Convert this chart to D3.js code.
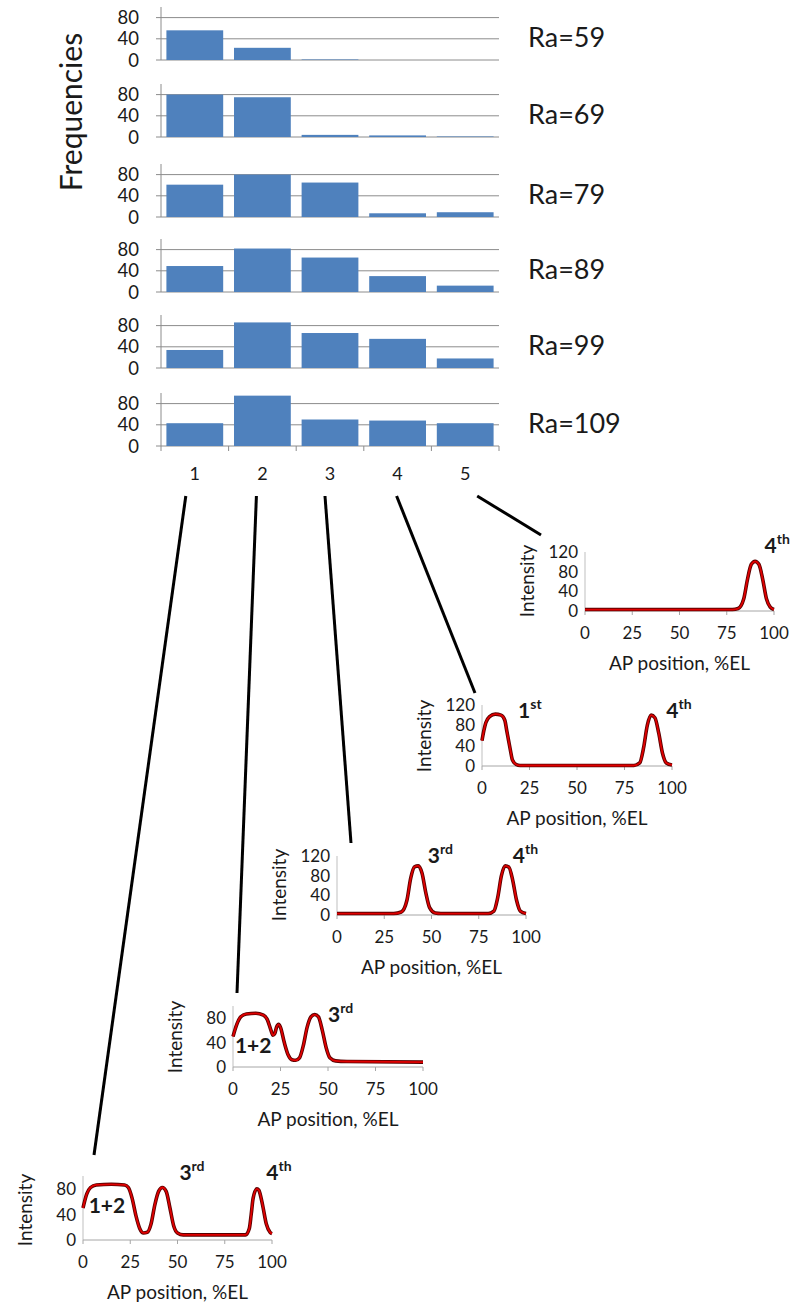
<!DOCTYPE html>
<html>
<head>
<meta charset="utf-8">
<script src="https://cdn.jsdelivr.net/npm/d3@7"></script>
<style>
  body { margin: 0; background: #fff; }
  text { font-family: Lato, "Open Sans", sans-serif; fill: #1a1a1a; }
</style>
</head>
<body>
<div id="chart"></div>
<script>
// histogram data (one row per Ra value)
const categories = [1, 2, 3, 4, 5];
const raLabels = ["Ra=59", "Ra=69", "Ra=79", "Ra=89", "Ra=99", "Ra=109"];
const freqs = [
    [56, 23, 1, 0, 0],
    [80, 75, 4, 3, 1],
    [61, 80, 65, 7, 9],
    [49, 82, 65, 30, 12],
    [34, 86, 66, 55, 18],
    [43, 95, 50, 48, 43]
];
const freqTicks = [0, 40, 80];

// intensity profiles along AP axis, one per category
const apTicks = [0, 25, 50, 75, 100];
const profile1 = [[0,50],[2,72],[4,82],[7,86],[15,87],[22,86],[24,82],[26,65],[28,38],[30,18],[32,11],[34,12],[36,25],[38,55],[40,76],[42,82],[44,76],[46,50],[48,22],[50,11],[53,8],[60,8],[86,8],[88,18],[89,40],[90,65],[92,80],[93,78],[95,55],[97,25],[99,12],[100,10]];
const profile2 = [[0,50],[2,70],[4,82],[7,87],[12,88],[16,85],[18,78],[20,60],[21,52],[22,55],[23,66],[24,70],[25,65],[27,40],[29,20],[31,12],[33,11],[35,15],[37,35],[39,65],[41,82],[43,86],[45,82],[47,60],[49,32],[51,15],[54,10],[60,9],[100,8]];
const profile3 = [[0,3],[30,3],[34,6],[37,30],[39,75],[41,98],[43,100],[45,85],[47,45],[49,15],[52,4],[55,3],[80,3],[83,8],[85,35],[87,80],[89,100],[91,97],[93,70],[95,30],[97,8],[100,3]];
const profile4 = [[0,50],[1,70],[2,85],[4,97],[7,102],[10,100],[12,90],[13,70],[14,50],[15,30],[16,12],[18,3],[20,1],[80,1],[83,6],[85,35],[87,80],[89,100],[91,95],[93,65],[95,25],[97,6],[100,2]];
const profile5 = [[0,3],[78,3],[81,5],[84,25],[86,65],[88,95],[90,101],[92,95],[94,65],[96,25],[98,8],[100,3]];

// peak labels: [main, superscript, x, y] in data units
const labels1 = [["1+2", "", 3, 42], ["3", "rd", 51, 94], ["4", "th", 97, 94]];
const labels2 = [["1+2", "", 1, 23], ["3", "rd", 50, 74]];
const labels3 = [["3", "rd", 48, 106], ["4", "th", 93, 106]];
const labels4 = [["1", "st", 19, 94], ["4", "th", 97, 94]];
const labels5 = [["4", "th", 95, 118]];

const W = 790, H = 1302;
const svg = d3.select("#chart").append("svg")
    .attr("width", W).attr("height", H);
svg.append("rect").attr("width", W).attr("height", H).attr("fill", "#fff");

const grid = "#8c8c8c";

// ---------- histograms ----------
const x = d3.scaleBand().domain(categories).range([161, 499])
    .paddingInner(0.16).paddingOuter(0.08);
const panelBase = [60, 137, 217, 292, 368, 446];
const panelH = 53;

freqs.forEach((row, i) => {
    const g = svg.append("g").attr("transform", `translate(0,${panelBase[i] - panelH})`);
    const y = d3.scaleLinear().domain([0, 100]).range([panelH, 0]);

    g.selectAll(".grid").data(freqTicks).enter().append("line")
        .attr("x1", 156).attr("x2", 499)
        .attr("y1", d => y(d)).attr("y2", d => y(d))
        .attr("stroke", grid).attr("stroke-width", 1);
    g.append("line").attr("x1", 161).attr("x2", 161)
        .attr("y1", y(0)).attr("y2", y(100))
        .attr("stroke", grid);

    g.selectAll(".bar").data(row).enter().append("rect")
        .attr("x", (d, j) => x(categories[j]))
        .attr("width", x.bandwidth())
        .attr("y", d => y(d))
        .attr("height", d => y(0) - y(d))
        .attr("fill", "#4f81bd");

    g.selectAll(".yl").data(freqTicks).enter().append("text")
        .attr("x", 139).attr("y", d => y(d)).attr("dy", "0.36em")
        .attr("text-anchor", "end").style("font-size", "18.5px")
        .text(d => d);

    g.append("text").attr("x", 528).attr("y", panelH - 23).attr("dy", "0.36em")
        .style("font-size", "27px").text(raLabels[i]);
});

// category axis under the last panel
const last = panelBase[panelBase.length - 1];
const step = (499 - 161) / categories.length;
svg.selectAll(".xt").data(d3.range(categories.length + 1)).enter().append("line")
    .attr("x1", k => 161 + k * step).attr("x2", k => 161 + k * step)
    .attr("y1", last).attr("y2", last + 5)
    .attr("stroke", grid);
svg.selectAll(".xl").data(categories).enter().append("text")
    .attr("x", d => x(d) + x.bandwidth() / 2).attr("y", 474).attr("dy", "0.36em")
    .attr("text-anchor", "middle").style("font-size", "18px")
    .text(d => d);

svg.append("text")
    .attr("transform", "translate(71,112) rotate(-90)")
    .attr("text-anchor", "middle").attr("dy", "0.36em")
    .style("font-size", "30px").text("Frequencies");

// ---------- small profile charts ----------
const profiles = [
    { cat: 1, data: profile1, labels: labels1, left: 83, bottom: 1240, w: 189, h: 64, max: 100, ticks: [0, 40, 80], from: -9, to: [94, 1155] },
    { cat: 2, data: profile2, labels: labels2, left: 233, bottom: 1067, w: 190, h: 61, max: 100, ticks: [0, 40, 80], from: -6, to: [237, 993] },
    { cat: 3, data: profile3, labels: labels3, left: 337, bottom: 915, w: 189, h: 59, max: 120, ticks: [0, 40, 80, 120], from: -5, to: [351, 843] },
    { cat: 4, data: profile4, labels: labels4, left: 482, bottom: 766, w: 190, h: 61, max: 120, ticks: [0, 40, 80, 120], from: -1, to: [475, 693] },
    { cat: 5, data: profile5, labels: labels5, left: 585, bottom: 611, w: 189, h: 59, max: 120, ticks: [0, 40, 80, 120], from: 12, to: [541, 535] }
];

profiles.forEach(p => {
    // connector from category label
    svg.append("line")
        .attr("x1", x(p.cat) + x.bandwidth() / 2 + p.from).attr("y1", 496)
        .attr("x2", p.to[0]).attr("y2", p.to[1])
        .attr("stroke", "#000").attr("stroke-width", 3);

    const px = d3.scaleLinear().domain([0, 100]).range([p.left, p.left + p.w]);
    const py = d3.scaleLinear().domain([0, p.max]).range([p.bottom, p.bottom - p.h]);
    const g = svg.append("g");

    g.append("line").attr("x1", px(0)).attr("x2", px(0))
        .attr("y1", py(0)).attr("y2", py(p.max)).attr("stroke", "#bfbfbf");
    g.append("line").attr("x1", px(0)).attr("x2", px(100))
        .attr("y1", py(0)).attr("y2", py(0)).attr("stroke", "#a6a6a6");
    g.selectAll(".t").data(apTicks).enter().append("line")
        .attr("x1", d => px(d)).attr("x2", d => px(d))
        .attr("y1", py(0)).attr("y2", py(0) + 4).attr("stroke", "#a6a6a6");

    g.selectAll(".yl").data(p.ticks).enter().append("text")
        .attr("x", px(0) - 7).attr("y", d => py(d)).attr("dy", "0.36em")
        .attr("text-anchor", "end").style("font-size", "17px").text(d => d);
    g.selectAll(".xl").data(apTicks).enter().append("text")
        .attr("x", d => px(d)).attr("y", py(0) + 22).attr("dy", "0.36em")
        .attr("text-anchor", "middle").style("font-size", "17px").text(d => d);

    g.append("text").attr("x", px(50)).attr("y", py(0) + 52).attr("dy", "0.36em")
        .attr("text-anchor", "middle").style("font-size", "19px").text("AP position, %EL");
    g.append("text")
        .attr("transform", `translate(${px(0) - 58},${py(0) - 30}) rotate(-90)`)
        .attr("text-anchor", "middle").attr("dy", "0.36em")
        .style("font-size", "19px").text("Intensity");

    const line = d3.line().x(d => px(d[0])).y(d => py(d[1])).curve(d3.curveMonotoneX);
    g.append("path").attr("d", line(p.data))
        .attr("fill", "none").attr("stroke", "#5a0000").attr("stroke-width", 3.6);
    g.append("path").attr("d", line(p.data))
        .attr("fill", "none").attr("stroke", "#e00000").attr("stroke-width", 1.8);

    p.labels.forEach(l => {
        const t = g.append("text").attr("x", px(l[2])).attr("y", py(l[3]))
            .style("font-weight", "bold").style("font-size", "21px");
        t.append("tspan").text(l[0]);
        if (l[1]) t.append("tspan").attr("dy", -9).style("font-size", "14px").text(l[1]);
    });
});
</script>
</body>
</html>
